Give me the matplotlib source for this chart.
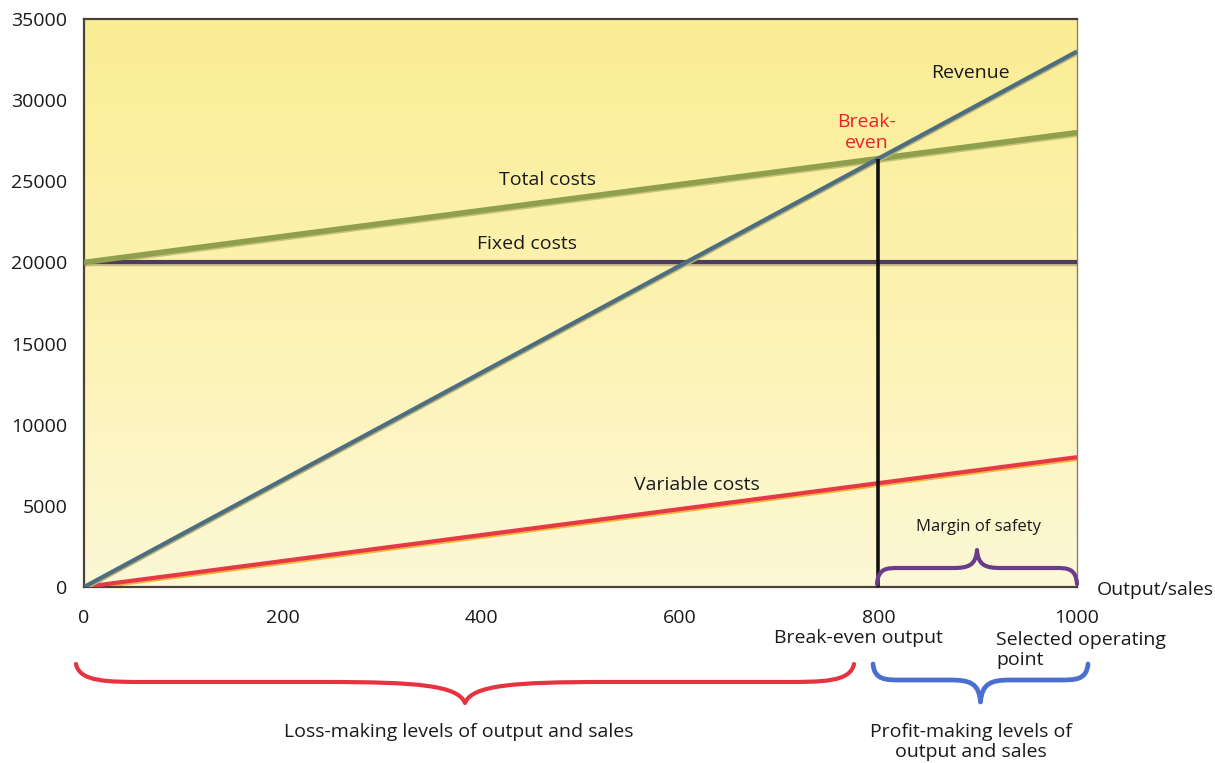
import numpy as np
import matplotlib
matplotlib.use("Agg")
import matplotlib.pyplot as plt
from matplotlib.path import Path
from matplotlib.patches import PathPatch
from matplotlib.colors import LinearSegmentedColormap
import matplotlib.transforms as mtransforms

plt.rcParams['font.family'] = ['Open Sans', 'DejaVu Sans']

# Break-even model: output levels and the value of each line at those levels
output = [0, 1000]
revenue = [0, 33000]
total_costs = [20000, 28000]
fixed_costs = [20000, 20000]
variable_costs = [0, 8000]
break_even_output = 800
break_even_value = 26400
operating_point = 1000

x_ticks = [0, 200, 400, 600, 800, 1000]
y_ticks = [0, 5000, 10000, 15000, 20000, 25000, 30000, 35000]

W, H = 1215, 763
fig = plt.figure(figsize=(W / 100, H / 100), dpi=100)
fig.patch.set_facecolor('white')

left, right, bottom, top = 84, 1077, 587, 19
ax = fig.add_axes([left / W, 1 - bottom / H, (right - left) / W, (bottom - top) / H])
ax.set_xlim(0, 1000)
ax.set_ylim(0, 35000)

# Yellow background, deeper at the top and fading to cream at the bottom
cmap = LinearSegmentedColormap.from_list(
    'bg', [(0.0, (253/255, 248/255, 214/255)),
           (0.45, (252/255, 243/255, 180/255)),
           (1.0, (251/255, 237/255, 148/255))])
grad = np.linspace(0, 1, 256).reshape(-1, 1)
ax.imshow(grad, extent=[0, 1000, 0, 35000], origin='lower', aspect='auto',
          cmap=cmap, zorder=0)

# Lines (with a soft shadow just below each)
shadow = mtransforms.offset_copy(ax.transData, fig=fig, x=0, y=-1.6, units='dots')
ax.plot(output, variable_costs, color='#f2b63a', lw=3.2, transform=shadow,
        solid_capstyle='butt', zorder=2)
ax.plot(output, variable_costs, color='#e63946', lw=3.0, solid_capstyle='butt', zorder=3)

ax.plot(output, fixed_costs, color='#c9b98a', lw=3.2, transform=shadow,
        solid_capstyle='butt', zorder=2)
ax.plot(output, fixed_costs, color='#4c3d5c', lw=3.0, solid_capstyle='butt', zorder=3)

ax.plot(output, total_costs, color='#c7c27a', lw=4.0, transform=shadow,
        solid_capstyle='butt', zorder=2)
ax.plot(output, total_costs, color='#8f9f4c', lw=4.0, solid_capstyle='butt', zorder=3)

ax.plot(output, revenue, color='#b8b070', lw=3.2, transform=shadow,
        solid_capstyle='butt', zorder=4)
ax.plot(output, revenue, color='#4d6e82', lw=3.0, solid_capstyle='butt', zorder=5)

ax.plot([break_even_output, break_even_output], [0, break_even_value],
        color='#111111', lw=2.6, solid_capstyle='butt', zorder=6)

# Axes styling
for s in ['left', 'bottom', 'top']:
    ax.spines[s].set_color('#4a4238')
    ax.spines[s].set_linewidth(1.6)
ax.spines['right'].set_color('#8a8070')
ax.spines['right'].set_linewidth(1.0)
ax.set_xticks(x_ticks)
ax.set_yticks(y_ticks)
ax.set_xticklabels([str(v) for v in x_ticks])
ax.set_yticklabels([str(v) for v in y_ticks])
ax.tick_params(axis='both', length=0, labelsize=14, colors='#1a1a1a')
ax.tick_params(axis='x', pad=16)
ax.tick_params(axis='y', pad=12)

# Line labels
lab = dict(fontsize=14, color='#1a1a1a', ha='center', va='center', zorder=7)
ax.text(893, 31650, 'Revenue', **lab)
ax.text(467, 25100, 'Total costs', **lab)
ax.text(446, 21150, 'Fixed costs', **lab)
ax.text(617, 6300, 'Variable costs', **lab)
ax.text(788, 28000, 'Break-\neven', fontsize=14, color='#e8232d', ha='center',
        va='center', linespacing=1.2, zorder=7)
ax.text(901, 3700, 'Margin of safety', fontsize=12, color='#1a1a1a',
        ha='center', va='center', zorder=7)

# Overlay in pixel coordinates for braces and notes outside the plot
ov = fig.add_axes([0, 0, 1, 1], facecolor='none')
ov.set_xlim(0, W)
ov.set_ylim(H, 0)
ov.axis('off')


def brace(axis, x0, x1, y_end, y_line, y_tip, w_end, w_tip, color, lw):
    xm = (x0 + x1) / 2
    dy = y_tip - y_line
    verts = [
        (x0, y_end),
        (x0 + 0.05 * w_end, y_line), (x0 + 0.45 * w_end, y_line), (x0 + w_end, y_line),
        (xm - w_tip, y_line),
        (xm - 0.35 * w_tip, y_line), (xm - 0.05 * w_tip, y_line + 0.15 * dy), (xm, y_tip),
        (xm + 0.05 * w_tip, y_line + 0.15 * dy), (xm + 0.35 * w_tip, y_line), (xm + w_tip, y_line),
        (x1 - w_end, y_line),
        (x1 - 0.45 * w_end, y_line), (x1 - 0.05 * w_end, y_line), (x1, y_end),
    ]
    codes = [Path.MOVETO,
             Path.CURVE4, Path.CURVE4, Path.CURVE4,
             Path.LINETO,
             Path.CURVE4, Path.CURVE4, Path.CURVE4,
             Path.CURVE4, Path.CURVE4, Path.CURVE4,
             Path.LINETO,
             Path.CURVE4, Path.CURVE4, Path.CURVE4]
    axis.add_patch(PathPatch(Path(verts, codes), fill=False, edgecolor=color,
                             lw=lw, capstyle='round', joinstyle='round',
                             clip_on=False))


# Margin of safety brace sitting on the axis
brace(ov, 877, 1077, 584, 568, 550, 22, 24, '#6a3d8c', 3.0)
# Loss-making range
brace(ov, 76, 854, 664, 682, 703, 70, 140, '#e8323f', 3.0)
# Profit-making range
brace(ov, 873, 1088, 664, 680, 702, 28, 30, '#4a6fd0', 3.4)

txt = dict(fontsize=14, color='#1a1a1a', zorder=7)
ov.text(1097, 590, 'Output/sales', ha='left', va='center', **txt)
ov.text(858, 638, 'Break-even output', ha='center', va='center', **txt)
ov.text(996, 650, 'Selected operating\npoint', ha='left', va='center',
        linespacing=1.2, **txt)
ov.text(459, 732, 'Loss-making levels of output and sales', ha='center',
        va='center', **txt)
ov.text(971, 742, 'Profit-making levels of\noutput and sales', ha='center',
        va='center', linespacing=1.15, **txt)

fig.savefig('out.png', dpi=100, facecolor='white')
